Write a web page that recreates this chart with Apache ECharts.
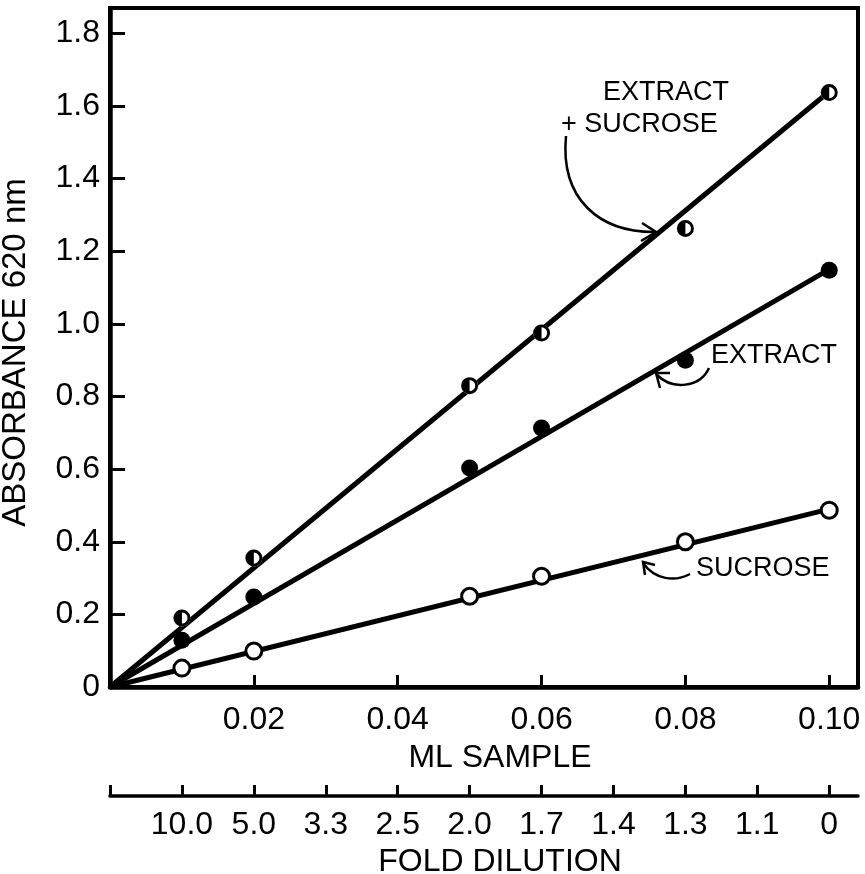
<!DOCTYPE html>
<html>
<head>
<meta charset="utf-8">
<script src="https://cdn.jsdelivr.net/npm/echarts@6/dist/echarts.min.js"></script>
<style>
  html, body { margin: 0; padding: 0; background: #fff; }
  #main { width: 865px; height: 874px; }
</style>
</head>
<body>
<div id="main"></div>
<script>
// 数据
var mlSample = [0.01, 0.02, 0.05, 0.06, 0.08, 0.10];
var extractSucrose = [0.19, 0.355, 0.83, 0.975, 1.263, 1.637];
var extract = [0.129, 0.248, 0.603, 0.713, 0.90, 1.148];
var sucrose = [0.052, 0.099, 0.25, 0.305, 0.40, 0.487];

// 直线 (从原点到终点)
var fitX = [0, 0.10];
var fitExtractSucrose = [0, 1.64];
var fitExtract = [0, 1.15];
var fitSucrose = [0, 0.49];

// 刻度标签
var yTickLabels = ['0', '0.2', '0.4', '0.6', '0.8', '1.0', '1.2', '1.4', '1.6', '1.8'];
var mlTickLabels = ['', '0.02', '0.04', '0.06', '0.08', '0.10'];
var foldTickLabels = ['', '10.0', '5.0', '3.3', '2.5', '2.0', '1.7', '1.4', '1.3', '1.1', '0'];

function pairs(xs, ys) {
    return xs.map(function (x, i) { return [x, ys[i]]; });
}

// 只给整刻度取标签
function tickLabel(list, step) {
    return function (v) {
        var k = v / step;
        if (Math.abs(k - Math.round(k)) > 1e-6) return '';
        return list[Math.round(k)] || '';
    };
}

var FONT = 'Liberation Sans';
var halfCircle = 'path://M10,0A10,10,0,1,1,10,20A10,10,0,1,1,10,0Z' +
    'M10,3.4A6.6,6.6,0,1,0,10,16.6A6.6,6.6,0,1,0,10,3.4Z' +
    'M10,3.4A6.6,6.6,0,0,0,10,16.6Z';

var myChart = echarts.init(document.getElementById('main'));

var lineStyle = { color: '#000', width: 5 };

var option = {
    animation: false,
    backgroundColor: '#fff',
    grid: {
        left: 110, right: 7, top: 8, bottom: 187,
        outerBoundsMode: 'none',
        show: true, borderColor: '#000', borderWidth: 4
    },
    xAxis: [{
        type: 'value', min: 0, max: 0.104, interval: 0.02,
        position: 'bottom',
        axisLine: { onZero: false, lineStyle: { color: '#000', width: 4.5 } },
        axisTick: { inside: true, length: 12, lineStyle: { color: '#000', width: 3 } },
        axisLabel: {
            margin: 17, color: '#000', fontSize: 32, fontFamily: FONT,
            showMaxLabel: false,
            formatter: tickLabel(mlTickLabels, 0.02)
        },
        splitLine: { show: false },
        name: 'ML SAMPLE', nameLocation: 'middle', nameGap: 55,
        nameTextStyle: { color: '#000', fontSize: 32, fontFamily: FONT, padding: [0, 0, 0, 32] }
    }, {
        type: 'value', min: 0, max: 0.104, interval: 0.01,
        position: 'bottom', offset: 109,
        axisLine: { onZero: false, lineStyle: { color: '#000', width: 3.5 } },
        axisTick: { inside: true, length: 11, lineStyle: { color: '#000', width: 3 } },
        axisLabel: {
            margin: 13, color: '#000', fontSize: 32, fontFamily: FONT,
            showMaxLabel: false,
            formatter: tickLabel(foldTickLabels, 0.01)
        },
        splitLine: { show: false },
        name: 'FOLD DILUTION', nameLocation: 'middle', nameGap: 47,
        nameTextStyle: { color: '#000', fontSize: 32, fontFamily: FONT, padding: [0, 0, 0, 32] }
    }],
    yAxis: {
        type: 'value', min: 0, max: 1.87, interval: 0.2,
        axisLine: { onZero: false, lineStyle: { color: '#000', width: 4.5 } },
        axisTick: { inside: true, length: 15, lineStyle: { color: '#000', width: 3 } },
        axisLabel: {
            margin: 10, color: '#000', fontSize: 32, fontFamily: FONT,
            showMaxLabel: false,
            formatter: tickLabel(yTickLabels, 0.2)
        },
        splitLine: { show: false },
        name: 'ABSORBANCE 620 nm', nameLocation: 'middle', nameGap: 78,
        nameTextStyle: { color: '#000', fontSize: 33, fontFamily: FONT, padding: [0, 10, 0, 0] }
    },
    series: [
        { type: 'line', data: pairs(fitX, fitExtractSucrose), symbol: 'none', lineStyle: lineStyle, z: 2 },
        { type: 'line', data: pairs(fitX, fitExtract), symbol: 'none', lineStyle: lineStyle, z: 2 },
        { type: 'line', data: pairs(fitX, fitSucrose), symbol: 'none', lineStyle: lineStyle, z: 2 },
        {
            name: 'EXTRACT + SUCROSE', type: 'scatter', data: pairs(mlSample, extractSucrose),
            symbol: 'circle', symbolSize: 17, itemStyle: { color: '#fff', opacity: 1 }, z: 3
        },
        {
            name: 'EXTRACT + SUCROSE', type: 'scatter', data: pairs(mlSample, extractSucrose),
            symbol: halfCircle, symbolSize: 17, itemStyle: { color: '#000', opacity: 1 }, z: 4
        },
        {
            name: 'EXTRACT', type: 'scatter', data: pairs(mlSample, extract),
            symbol: 'circle', symbolSize: 17, itemStyle: { color: '#000', opacity: 1 }, z: 4
        },
        {
            name: 'SUCROSE', type: 'scatter', data: pairs(mlSample, sucrose),
            symbol: 'circle', symbolSize: 16,
            itemStyle: { color: '#fff', borderColor: '#000', borderWidth: 3, opacity: 1 }, z: 4
        }
    ],
    graphic: [
        // 注释文字
        { type: 'text', left: 603, top: 79, style: { text: 'EXTRACT', font: '27px ' + FONT, fill: '#000' } },
        { type: 'text', left: 561, top: 111, style: { text: '+ SUCROSE', font: '27px ' + FONT, fill: '#000' } },
        { type: 'text', left: 711, top: 342, style: { text: 'EXTRACT', font: '27px ' + FONT, fill: '#000' } },
        { type: 'text', left: 696, top: 555, style: { text: 'SUCROSE', font: '27px ' + FONT, fill: '#000' } },
        // 箭头
        { type: 'bezierCurve', shape: { x1: 566, y1: 136, cpx1: 560, cpy1: 200, cpx2: 600, cpy2: 232, x2: 654, y2: 232 },
          style: { stroke: '#000', lineWidth: 2.5, fill: null } },
        { type: 'polyline', shape: { points: [[642, 223], [656, 232], [641, 241]] },
          style: { stroke: '#000', lineWidth: 2.5, fill: null } },
        { type: 'bezierCurve', shape: { x1: 709, y1: 368, cpx1: 700, cpy1: 388, cpx2: 672, cpy2: 390, x2: 657, y2: 375 },
          style: { stroke: '#000', lineWidth: 2.5, fill: null } },
        { type: 'polyline', shape: { points: [[660, 388], [656, 373], [670, 373]] },
          style: { stroke: '#000', lineWidth: 2.5, fill: null } },
        { type: 'bezierCurve', shape: { x1: 690, y1: 574, cpx1: 675, cpy1: 582, cpx2: 655, cpy2: 580, x2: 643, y2: 563 },
          style: { stroke: '#000', lineWidth: 2.5, fill: null } },
        { type: 'polyline', shape: { points: [[645, 575], [643, 562], [655, 565]] },
          style: { stroke: '#000', lineWidth: 2.5, fill: null } }
    ]
};

myChart.setOption(option);
</script>
</body>
</html>
